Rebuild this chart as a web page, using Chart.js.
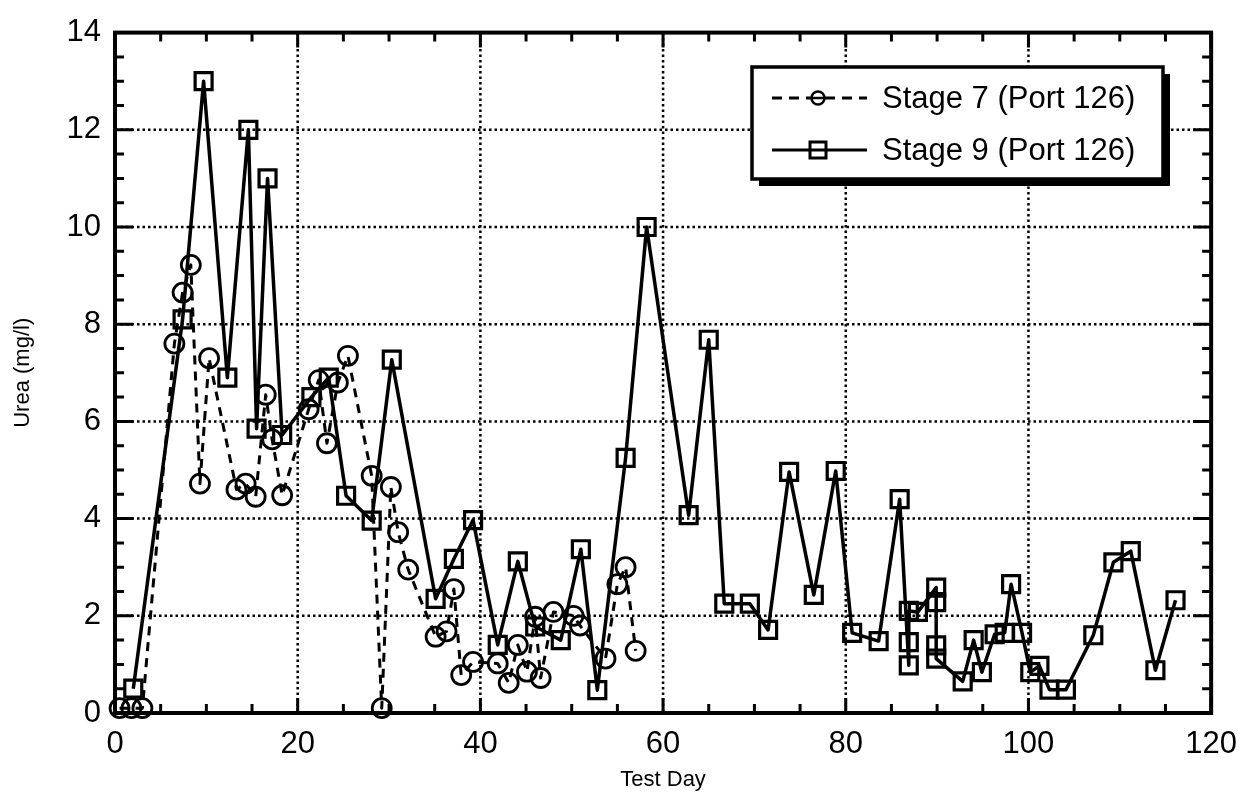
<!DOCTYPE html>
<html>
<head>
<meta charset="utf-8">
<script src="https://cdn.jsdelivr.net/npm/chart.js@4.4.1/dist/chart.umd.min.js"></script>
<style>
  body { margin: 0; background: #fff; }
  #wrap { width: 1250px; height: 800px; }
</style>
</head>
<body>
<div id="wrap"><canvas id="ureaChart" width="1250" height="800"></canvas></div>
<script>
// values
var stage7Days = [0.5, 1.8, 3.0, 6.5, 7.4, 8.3, 9.3, 10.3, 13.3, 14.3, 15.4, 16.5, 17.2, 18.3,
    21.2, 22.3, 23.2, 24.4, 25.5, 28.1, 29.2, 30.2, 31.0, 32.1, 35.1, 36.3, 37.1, 37.9, 39.2,
    41.9, 43.1, 44.1, 45.1, 46.0, 46.6, 48.0, 50.2, 50.9, 53.7, 55.0, 55.9, 57.0];
var stage7Urea = [0.1, 0.1, 0.1, 7.6, 8.65, 9.22, 4.72, 7.3, 4.6, 4.72, 4.45, 6.55, 5.63, 4.48,
    6.25, 6.85, 5.55, 6.8, 7.35, 4.88, 0.1, 4.65, 3.72, 2.95, 1.57, 1.68, 2.55, 0.78, 1.05,
    1.02, 0.62, 1.4, 0.85, 1.98, 0.72, 2.08, 2.0, 1.8, 1.12, 2.65, 3.0, 1.28];

var stage9Days = [2.0, 7.4, 9.7, 12.3, 14.6, 15.5, 16.7, 18.3, 21.5, 23.4, 25.3, 28.1, 30.3,
    35.1, 37.1, 39.2, 41.9, 44.1, 46.0, 48.8, 51.0, 52.8, 55.9, 58.2, 62.8, 65.0, 66.7, 69.5,
    71.5, 73.8, 76.5, 78.9, 80.7, 83.6, 85.9, 86.9, 86.9, 86.9, 87.9, 89.9, 89.9, 89.9, 89.9,
    92.8, 94.0, 94.9, 96.3, 97.4, 98.1, 99.3, 100.2, 101.2, 102.3, 104.1, 107.1, 109.3, 111.2,
    113.9, 116.1];
var stage9Urea = [0.5, 8.1, 13.0, 6.9, 12.0, 5.85, 11.0, 5.72, 6.5, 6.9, 4.47, 3.96, 7.27,
    2.35, 3.17, 3.97, 1.4, 3.12, 1.78, 1.5, 3.37, 0.47, 5.25, 10.0, 4.07, 7.68, 2.25, 2.25,
    1.71, 4.96, 2.43, 4.98, 1.65, 1.48, 4.4, 0.98, 1.46, 2.1, 2.08, 2.58, 2.28, 1.39, 1.12,
    0.65, 1.5, 0.84, 1.62, 1.65, 2.65, 1.65, 0.84, 0.97, 0.48, 0.48, 1.6, 3.1, 3.33,
    0.88, 2.32];

var seriesNames = ['Stage 7 (Port 126)', 'Stage 9 (Port 126)'];
var xTickLabels = [0, 20, 40, 60, 80, 100, 120];
var yTickLabels = [0, 2, 4, 6, 8, 10, 12, 14];
var xMinorStep = 5;
var yMinorStep = 0.5;

var FONT = "'Liberation Sans', Arial, Helvetica, sans-serif";

function toPoints(xs, ys) {
    return xs.map(function (x, i) { return {x: x, y: ys[i]}; });
}

// dotted grid, heavy frame and inward ticks on all four sides
var framePlugin = {
    id: 'frame',
    beforeDatasetsDraw: function (chart) {
        var ctx = chart.ctx, a = chart.chartArea;
        var xs = chart.scales.x, ys = chart.scales.y;
        ctx.save();
        ctx.strokeStyle = '#000';
        ctx.lineWidth = 2.5;
        ctx.setLineDash([2.5, 3]);
        xTickLabels.forEach(function (v) {
            var px = xs.getPixelForValue(v);
            if (px <= a.left + 2 || px >= a.right - 2) return;
            ctx.beginPath(); ctx.moveTo(px, a.top); ctx.lineTo(px, a.bottom); ctx.stroke();
        });
        yTickLabels.forEach(function (v) {
            var py = ys.getPixelForValue(v);
            if (py <= a.top + 2 || py >= a.bottom - 2) return;
            ctx.beginPath(); ctx.moveTo(a.left, py); ctx.lineTo(a.right, py); ctx.stroke();
        });
        ctx.restore();
    },
    afterDatasetsDraw: function (chart) {
        var ctx = chart.ctx, a = chart.chartArea;
        var xs = chart.scales.x, ys = chart.scales.y;
        ctx.save();
        ctx.strokeStyle = '#000';
        ctx.setLineDash([]);
        ctx.lineWidth = 3;
        for (var v = xs.min; v <= xs.max + 1e-6; v += xMinorStep) {
            var len = xTickLabels.indexOf(v) >= 0 ? 15 : 9;
            var px = xs.getPixelForValue(v);
            ctx.beginPath();
            ctx.moveTo(px, a.bottom); ctx.lineTo(px, a.bottom - len);
            ctx.moveTo(px, a.top); ctx.lineTo(px, a.top + len);
            ctx.stroke();
        }
        for (var w = ys.min; w <= ys.max + 1e-6; w += yMinorStep) {
            var l2 = yTickLabels.indexOf(w) >= 0 ? 18 : 9;
            var py = ys.getPixelForValue(w);
            ctx.beginPath();
            ctx.moveTo(a.left, py); ctx.lineTo(a.left + l2, py);
            ctx.moveTo(a.right, py); ctx.lineTo(a.right - l2, py);
            ctx.stroke();
        }
        ctx.lineWidth = 4;
        ctx.strokeRect(a.left, a.top, a.right - a.left, a.bottom - a.top);
        ctx.restore();
    }
};

// boxed legend with drop shadow
var legendBox = {
    id: 'legendBox',
    afterDraw: function (chart) {
        var ctx = chart.ctx;
        var bx = 752, by = 67, bw = 411, bh = 112, sh = 7;
        ctx.save();
        ctx.fillStyle = '#000';
        ctx.fillRect(bx + sh, by + sh, bw, bh);
        ctx.fillStyle = '#fff';
        ctx.fillRect(bx, by, bw, bh);
        ctx.strokeStyle = '#000';
        ctx.lineWidth = 3.5;
        ctx.strokeRect(bx, by, bw, bh);

        var rows = [by + 31, by + 83];
        var x0 = 772, x1 = 867, mx = 818;
        ctx.lineWidth = 3;
        // stage 7 sample
        ctx.setLineDash([10, 7]);
        ctx.beginPath(); ctx.moveTo(x0, rows[0]); ctx.lineTo(mx - 7, rows[0]);
        ctx.moveTo(mx + 7, rows[0]); ctx.lineTo(x1, rows[0]); ctx.stroke();
        ctx.setLineDash([]);
        ctx.lineWidth = 2.5;
        ctx.beginPath(); ctx.arc(mx, rows[0], 6.5, 0, Math.PI * 2); ctx.stroke();
        ctx.beginPath(); ctx.moveTo(mx - 6, rows[0]); ctx.lineTo(mx + 6, rows[0]); ctx.stroke();
        // stage 9 sample
        ctx.lineWidth = 3;
        ctx.beginPath(); ctx.moveTo(x0, rows[1]); ctx.lineTo(x1, rows[1]); ctx.stroke();
        ctx.strokeRect(mx - 8, rows[1] - 8, 16, 16);

        ctx.fillStyle = '#000';
        ctx.font = '31px ' + FONT;
        ctx.textBaseline = 'middle';
        ctx.textAlign = 'left';
        ctx.fillText(seriesNames[0], 882, rows[0] + 1);
        ctx.fillText(seriesNames[1], 882, rows[1] + 1);
        ctx.restore();
    }
};

var ctx = document.getElementById('ureaChart').getContext('2d');
var ureaChart = new Chart(ctx, {
    type: 'scatter',
    data: {
        datasets: [{
            label: seriesNames[0],
            data: toPoints(stage7Days, stage7Urea),
            showLine: true,
            borderColor: '#000',
            borderWidth: 3,
            borderDash: [9, 7],
            borderJoinStyle: 'round',
            pointStyle: 'circle',
            pointRadius: 9.5,
            pointBorderWidth: 2.8,
            pointBorderColor: '#000',
            pointBackgroundColor: 'rgba(0,0,0,0)',
            clip: false
        }, {
            label: seriesNames[1],
            data: toPoints(stage9Days, stage9Urea),
            showLine: true,
            borderColor: '#000',
            borderWidth: 3.5,
            borderJoinStyle: 'round',
            pointStyle: 'rect',
            pointRadius: 12,
            pointBorderWidth: 3.2,
            pointBorderColor: '#000',
            pointBackgroundColor: 'rgba(0,0,0,0)',
            clip: false
        }]
    },
    options: {
        responsive: false,
        animation: false,
        layout: { padding: { top: 23, right: 33, left: 0, bottom: 0 } },
        plugins: {
            legend: { display: false },
            tooltip: { enabled: false }
        },
        scales: {
            x: {
                type: 'linear',
                min: 0,
                max: 120,
                afterBuildTicks: function (s) { s.ticks = xTickLabels.map(function (v) { return {value: v}; }); },
                afterFit: function (s) { s.height = 87; },
                grid: { display: false, drawTicks: false },
                border: { display: false },
                ticks: { color: '#000', font: { family: FONT, size: 31 }, padding: 13, maxRotation: 0, autoSkip: false },
                title: { display: true, text: 'Test Day', color: '#000', font: { family: FONT, size: 22 }, padding: { top: 0, bottom: 7 } }
            },
            y: {
                type: 'linear',
                min: 0,
                max: 14,
                afterBuildTicks: function (s) { s.ticks = yTickLabels.map(function (v) { return {value: v}; }); },
                afterFit: function (s) { s.width = 115; },
                grid: { display: false, drawTicks: false },
                border: { display: false },
                ticks: { color: '#000', font: { family: FONT, size: 31 }, padding: 14, autoSkip: false },
                title: { display: true, text: 'Urea (mg/l)', color: '#000', font: { family: FONT, size: 22 }, padding: { top: 10, bottom: 0 } }
            }
        }
    },
    plugins: [framePlugin, legendBox]
});
</script>
</body>
</html>
